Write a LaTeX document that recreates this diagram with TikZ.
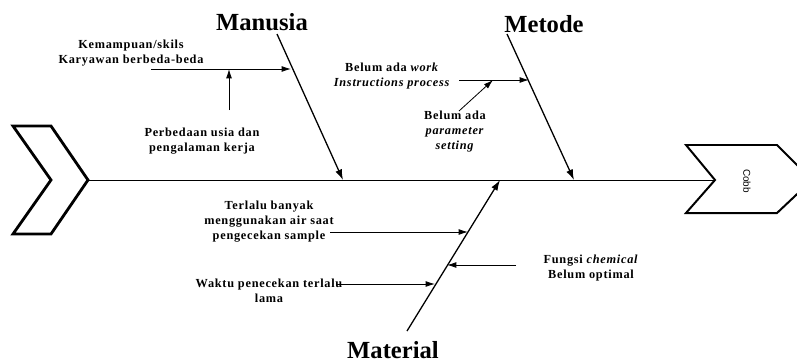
\documentclass[tikz,border=0pt]{standalone}
\usepackage{fontspec}
\setmainfont{Liberation Serif}
\setsansfont{Liberation Sans}
\newfontfamily\causefont[LetterSpace=6]{Liberation Serif}
\usetikzlibrary{arrows.meta}
\tikzstyle{cause} = [font=\causefont\bfseries\fontsize{10.5}{12.8}\selectfont, align=center, inner sep=0pt]
\tikzstyle{category} = [font=\bfseries\fontsize{21}{24}\selectfont, inner sep=0pt]
\tikzstyle{bone} = [draw, line width=1.1pt, -{Latex[length=9pt,width=6pt]}]
\tikzstyle{line} = [draw, line width=0.7pt, -{Latex[length=8pt,width=5pt]}]
\tikzstyle{plain} = [draw, line width=0.7pt]
\tikzstyle{chevron} = [draw, line width=2.4pt, line join=miter]

\begin{document}
\begin{tikzpicture}[x=0.03cm, y=-0.03cm]
    \useasboundingbox (0,0) rectangle (797,362);
    \clip (0,0) rectangle (797,362);

    % tail and head
    \draw [chevron] (13,126) -- (51,126) -- (88,180) -- (51,234) -- (13,234) -- (51,180) -- cycle;
    \draw [chevron, line width=1.7pt] (686,145) -- (777,145) -- (812,180) -- (777,213) -- (686,213) -- (715,180) -- cycle;
    \node [rotate=-90, font=\sffamily\fontsize{8.5}{10}\selectfont, inner sep=0pt] (effect) at (747,181) {Cobb};

    \coordinate (tail) at (88,180);
    \coordinate (notch) at (715,180);
    \path [plain] (tail) -- (notch);

    % categories
    \node [category] (manusia) at (262,22) {Manusia};
    \node [category] (metode) at (544,24) {Metode};
    \node [category] (material) at (393,350) {Material};

    \coordinate (m0) at (277,34);
    \coordinate (m1) at (343,180);
    \coordinate (t0) at (507,34);
    \coordinate (t1) at (574,180);
    \coordinate (a0) at (407,331);
    \coordinate (a1) at (500,180);
    \path [bone] (m0) -- (m1);
    \path [bone] (t0) -- (t1);
    \path [bone] (a0) -- (a1);

    % manusia
    \node [cause] (skils) at (131,53) {Kemampuan/skils\\Karyawan berbeda-beda};
    \node [cause] (usia) at (202,141) {Perbedaan usia dan\\pengalaman kerja};
    \coordinate (skils0) at (151,69);
    \coordinate (skils1) at (291,69);
    \coordinate (usia0) at (229,110);
    \coordinate (usia1) at (229,69);
    \path [line] (skils0) -- (skils1);
    \path [line] (usia0) -- (usia1);

    % metode
    \node [cause] (work) at (392,76) {Belum ada \textit{work}\\\textit{Instructions process}};
    \node [cause] (param) at (455,132) {Belum ada\\\textit{parameter}\\\textit{setting}};
    \coordinate (work0) at (459,80);
    \coordinate (work1) at (529,80);
    \coordinate (param0) at (459,111);
    \coordinate (param1) at (493,80);
    \path [line] (work0) -- (work1);
    \path [line] (param0) -- (param1);

    % material
    \node [cause] (air) at (269,222) {Terlalu banyak\\menggunakan air saat\\pengecekan sample};
    \node [cause] (waktu) at (269,291) {Waktu penecekan terlalu\\lama};
    \node [cause] (chem) at (591,268) {Fungsi \textit{chemical}\\Belum optimal};
    \coordinate (air0) at (330,232);
    \coordinate (air1) at (468,232);
    \coordinate (waktu0) at (337,284);
    \coordinate (waktu1) at (435,284);
    \coordinate (chem0) at (516,265);
    \coordinate (chem1) at (447,265);
    \path [line] (air0) -- (air1);
    \path [line] (waktu0) -- (waktu1);
    \path [line] (chem0) -- (chem1);
  \end{tikzpicture}
\end{document}
